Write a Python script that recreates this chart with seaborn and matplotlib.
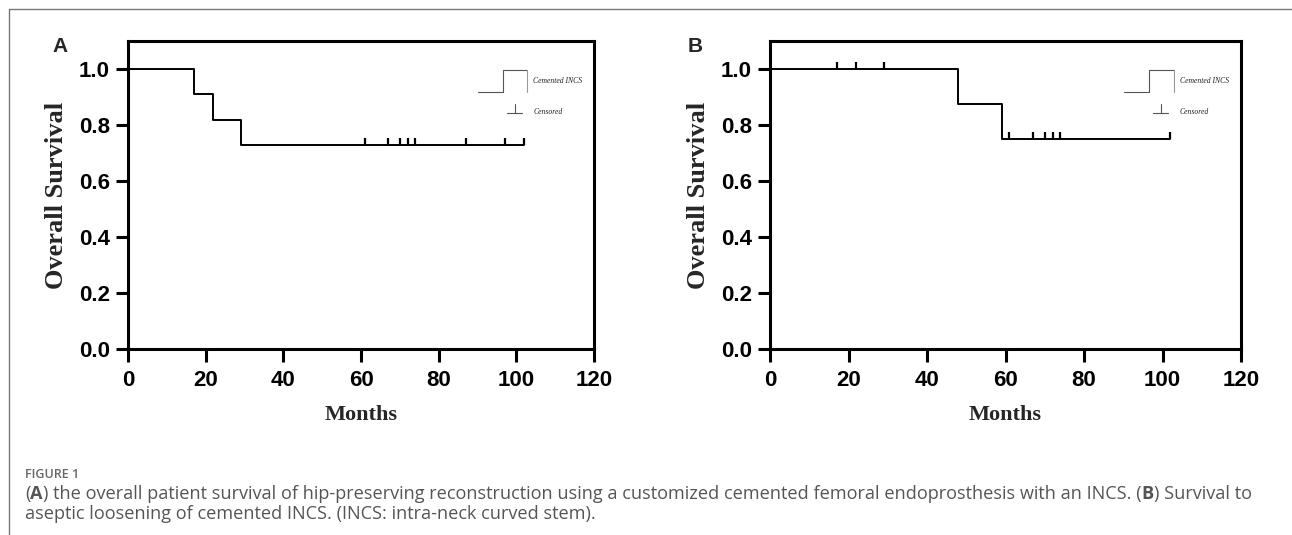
import matplotlib
matplotlib.use("Agg")
import matplotlib.pyplot as plt
from matplotlib.path import Path
from matplotlib.lines import Line2D
import seaborn as sns
import pandas as pd

# ---------------- data ----------------
# Panel A: overall survival (Kaplan-Meier steps)
a_times = [0, 17, 22, 29, 102]
a_surv = [1.0, 0.909, 0.818, 0.727, 0.727]
a_cens_times = [61, 67, 70, 72, 74, 87, 97, 102]
a_cens_surv = [0.727, 0.727, 0.727, 0.727, 0.727, 0.727, 0.727, 0.727]

# Panel B: survival to aseptic loosening
b_times = [0, 48, 59, 102]
b_surv = [1.0, 0.875, 0.75, 0.75]
b_cens_times = [17, 22, 29, 61, 67, 70, 72, 74, 102]
b_cens_surv = [1.0, 1.0, 1.0, 0.75, 0.75, 0.75, 0.75, 0.75, 0.75]

x_ticks = [0, 20, 40, 60, 80, 100, 120]
y_ticks = [0.0, 0.2, 0.4, 0.6, 0.8, 1.0]
panel_labels = ["A", "B"]
series_label = "Cemented INCS"
censor_label = "Censored"
x_label = "Months"
y_label = "Overall Survival"
caption_head = "FIGURE 1"

# ---------------- style ----------------
sns.set_theme(style="ticks")
plt.rcParams["font.family"] = ["Liberation Sans", "DejaVu Sans"]

fig = plt.figure(figsize=(12.92, 5.35), dpi=100)
W, H = 1292, 535

def ax_rect(l, r, t, b):
    return [l / W, 1 - b / H, (r - l) / W, (b - t) / H]

axA = fig.add_axes(ax_rect(128, 594, 41, 349))
axB = fig.add_axes(ax_rect(770, 1241, 41, 349))

censor_marker = Path([(0, 0), (0, 1)], [Path.MOVETO, Path.LINETO])
serif = ["Liberation Serif", "DejaVu Serif"]

panels = [
    (axA, a_times, a_surv, a_cens_times, a_cens_surv),
    (axB, b_times, b_surv, b_cens_times, b_cens_surv),
]

for i, (ax, t, s, ct, cs) in enumerate(panels):
    df = pd.DataFrame({"t": t, "s": s})
    sns.lineplot(data=df, x="t", y="s", ax=ax, estimator=None, sort=False,
                 drawstyle="steps-post", color="black", linewidth=1.4)
    cdf = pd.DataFrame({"t": ct, "s": cs})
    sns.scatterplot(data=cdf, x="t", y="s", ax=ax, marker=censor_marker,
                    s=110, color="black", linewidth=1.6, edgecolor="black",
                    zorder=3)
    ax.set_xlim(0, 120)
    ax.set_ylim(0, 1.1)
    ax.set_xticks(x_ticks)
    ax.set_yticks(y_ticks)
    ax.set_xticklabels([str(v) for v in x_ticks])
    ax.set_yticklabels([f"{v:.1f}" for v in y_ticks])
    for sp in ax.spines.values():
        sp.set_visible(True)
        sp.set_linewidth(2.2)
        sp.set_color("black")
    ax.tick_params(axis="both", direction="out", length=9, width=2.2,
                   colors="black", labelsize=16)
    ax.tick_params(axis="x", pad=6)
    ax.tick_params(axis="y", pad=4)
    for lab in ax.get_xticklabels() + ax.get_yticklabels():
        lab.set_fontweight("bold")
    ax.set_xlabel(x_label, family=serif, fontweight="bold", fontsize=16,
                  labelpad=10)
    ax.set_ylabel(y_label, family=serif, fontweight="bold", fontsize=19,
                  labelpad=8)
    ax.grid(False)

    # legend glyphs (axes coordinates)
    tr = ax.transAxes
    ax.add_line(Line2D([0.752, 0.805, 0.805, 0.857], [0.835, 0.835, 0.906, 0.906],
                       transform=tr, color="#555555", linewidth=0.8))
    ax.add_line(Line2D([0.857, 0.857], [0.906, 0.835], transform=tr,
                       color="#999999", linewidth=0.8))
    ax.add_line(Line2D([0.814, 0.846], [0.767, 0.767], transform=tr,
                       color="#555555", linewidth=0.8))
    ax.add_line(Line2D([0.830, 0.830], [0.767, 0.795], transform=tr,
                       color="#555555", linewidth=0.8))
    ax.text(0.870, 0.871, series_label, transform=tr, fontsize=5.5,
            style="italic", family=serif, va="center", ha="left",
            color="#222222")
    ax.text(0.870, 0.770, censor_label, transform=tr, fontsize=5.5,
            style="italic", family=serif, va="center", ha="left",
            color="#222222")

fig.text(52 / W, 1 - 46 / H, panel_labels[0], fontsize=15, fontweight="bold",
         va="center", ha="left")
fig.text(688 / W, 1 - 46 / H, panel_labels[1], fontsize=15, fontweight="bold",
         va="center", ha="left")

# frame lines
fig.add_artist(Line2D([9 / W, 1.0], [1 - 9 / H, 1 - 9 / H], transform=fig.transFigure,
                      color="#777777", linewidth=1.0))
fig.add_artist(Line2D([9 / W, 9 / W], [1 - 9 / H, 0.0], transform=fig.transFigure,
                      color="#777777", linewidth=1.0))

# caption
cap_font = ["Open Sans", "DejaVu Sans"]
cap_x = 25
fig.text(cap_x / W, 1 - 474 / H, caption_head, fontsize=9, color="#666666",
         family=cap_font, fontweight="semibold", va="center", ha="left")
line1 = [("(", "normal"), ("A", "bold"),
         (") the overall patient survival of hip-preserving reconstruction using a customized cemented femoral endoprosthesis with an INCS. (", "normal"),
         ("B", "bold"), (") Survival to", "normal")]
line2 = "aseptic loosening of cemented INCS. (INCS: intra-neck curved stem)."

fig.canvas.draw()
renderer = fig.canvas.get_renderer()
x = cap_x / W
for txt, w in line1:
    t = fig.text(x, 1 - 494 / H, txt, fontsize=13.1, color="#555555",
                 family=cap_font, fontweight=w, va="center", ha="left")
    bb = t.get_window_extent(renderer=renderer)
    x += bb.width / W
fig.text(cap_x / W, 1 - 514 / H, line2, fontsize=13.1, color="#555555",
         family=cap_font, va="center", ha="left")

fig.savefig("out.png", dpi=100)
